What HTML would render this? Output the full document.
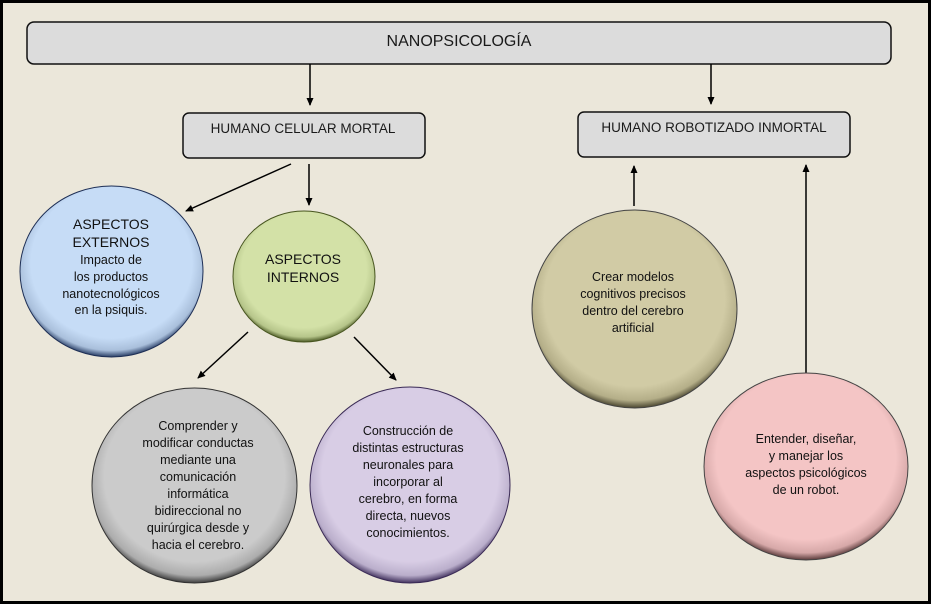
<!DOCTYPE html>
<html><head><meta charset="utf-8"><style>
html,body{margin:0;padding:0;background:#000;}
svg{display:block;font-family:"Liberation Sans",Arial,sans-serif;}
</style></head><body>
<svg width="931" height="604" viewBox="0 0 931 604" xmlns="http://www.w3.org/2000/svg">
<defs>
<marker id="ah" markerWidth="8" markerHeight="8" refX="7" refY="4" orient="auto" markerUnits="userSpaceOnUse"><path d="M0,0.5 L8,4 L0,7.5 z" fill="#000"/></marker>
<radialGradient id="gb" cx="50%" cy="45%" r="55%"><stop offset="0.8" stop-color="#c6dcf6"/><stop offset="0.93" stop-color="#a9bfdb"/><stop offset="1" stop-color="#2a3f66"/></radialGradient>
<radialGradient id="gg" cx="50%" cy="45%" r="55%"><stop offset="0.8" stop-color="#d3e1a7"/><stop offset="0.93" stop-color="#b6c58a"/><stop offset="1" stop-color="#4c5a26"/></radialGradient>
<radialGradient id="gy" cx="50%" cy="45%" r="55%"><stop offset="0.8" stop-color="#cbcbcb"/><stop offset="0.93" stop-color="#acacac"/><stop offset="1" stop-color="#3e3e3e"/></radialGradient>
<radialGradient id="gp" cx="50%" cy="45%" r="55%"><stop offset="0.8" stop-color="#d8cde5"/><stop offset="0.93" stop-color="#baaecb"/><stop offset="1" stop-color="#42325e"/></radialGradient>
<radialGradient id="gt" cx="50%" cy="45%" r="55%"><stop offset="0.8" stop-color="#d1cba5"/><stop offset="0.93" stop-color="#b4ae88"/><stop offset="1" stop-color="#4a4630"/></radialGradient>
<radialGradient id="gk" cx="50%" cy="45%" r="55%"><stop offset="0.8" stop-color="#f4c5c5"/><stop offset="0.93" stop-color="#d6a8a8"/><stop offset="1" stop-color="#5a3a3a"/></radialGradient>
</defs>
<rect x="3" y="3" width="925" height="598" fill="#ebe7da"/>
<rect x="27" y="22" width="864" height="42" rx="7" fill="#dcdcdc" stroke="#111" stroke-width="1.5"/>
<text x="459" y="46" font-size="16" text-anchor="middle" fill="#1a1a1a">NANOPSICOLOGÍA</text>
<line x1="310" y1="64" x2="310" y2="105" stroke="#000" stroke-width="1.5" marker-end="url(#ah)"/>
<line x1="711" y1="64" x2="711" y2="104" stroke="#000" stroke-width="1.5" marker-end="url(#ah)"/>
<rect x="183" y="113" width="242" height="45" rx="6" fill="#dcdcdc" stroke="#111" stroke-width="1.5"/>
<text x="303" y="133" font-size="13.5" text-anchor="middle" fill="#1a1a1a">HUMANO CELULAR MORTAL</text>
<rect x="578" y="112" width="272" height="45" rx="6" fill="#dcdcdc" stroke="#111" stroke-width="1.5"/>
<text x="714" y="132" font-size="13.5" text-anchor="middle" fill="#1a1a1a">HUMANO ROBOTIZADO INMORTAL</text>
<line x1="291" y1="164" x2="186" y2="211" stroke="#000" stroke-width="1.5" marker-end="url(#ah)"/>
<line x1="309" y1="164" x2="309" y2="205" stroke="#000" stroke-width="1.5" marker-end="url(#ah)"/>
<line x1="248" y1="332" x2="198" y2="378" stroke="#000" stroke-width="1.5" marker-end="url(#ah)"/>
<line x1="354" y1="337" x2="396" y2="380" stroke="#000" stroke-width="1.5" marker-end="url(#ah)"/>
<line x1="634" y1="206" x2="634" y2="166" stroke="#000" stroke-width="1.5" marker-end="url(#ah)"/>
<line x1="806" y1="373" x2="806" y2="165" stroke="#000" stroke-width="1.5" marker-end="url(#ah)"/>
<ellipse cx="111.5" cy="271.5" rx="91.5" ry="85.5" fill="url(#gb)" stroke="#1e2f55" stroke-width="1"/>
<ellipse cx="304" cy="276.5" rx="71" ry="65.5" fill="url(#gg)" stroke="#47551f" stroke-width="1"/>
<ellipse cx="194.5" cy="485.5" rx="102.5" ry="97.5" fill="url(#gy)" stroke="#333" stroke-width="1"/>
<ellipse cx="410" cy="485" rx="100" ry="98" fill="url(#gp)" stroke="#3a2a55" stroke-width="1"/>
<ellipse cx="634.5" cy="309" rx="102.5" ry="99" fill="url(#gt)" stroke="#444" stroke-width="1"/>
<ellipse cx="806" cy="466.5" rx="102" ry="93.5" fill="url(#gk)" stroke="#444" stroke-width="1"/>
<g text-anchor="middle" fill="#111">
<text x="111" y="229" font-size="14">ASPECTOS</text>
<text x="111" y="247" font-size="14">EXTERNOS</text>
<g font-size="12.5"><text x="111" y="264">Impacto de</text><text x="111" y="281">los productos</text><text x="111" y="298">nanotecnológicos</text><text x="111" y="314">en la psiquis.</text></g>
<text x="303" y="264" font-size="14">ASPECTOS</text>
<text x="303" y="282" font-size="14">INTERNOS</text>
<g font-size="12.5">
<text x="198" y="430">Comprender y</text><text x="198" y="447">modificar conductas</text><text x="198" y="464">mediante una</text><text x="198" y="481">comunicación</text><text x="198" y="498">informática</text><text x="198" y="515">bidireccional no</text><text x="198" y="532">quirúrgica  desde y</text><text x="198" y="549">hacia el cerebro.</text>
<text x="408" y="435">Construcción de</text><text x="408" y="452">distintas estructuras</text><text x="408" y="469">neuronales para</text><text x="408" y="486">incorporar  al</text><text x="408" y="503">cerebro, en forma</text><text x="408" y="520">directa,  nuevos</text><text x="408" y="537">conocimientos.</text>
<text x="633" y="281">Crear modelos</text><text x="633" y="298">cognitivos precisos</text><text x="633" y="315">dentro del cerebro</text><text x="633" y="332">artificial</text>
<text x="806" y="443">Entender,  diseñar,</text><text x="806" y="460">y manejar los</text><text x="806" y="477">aspectos psicológicos</text><text x="806" y="494">de un robot.</text>
</g></g>
</svg>
</body></html>
